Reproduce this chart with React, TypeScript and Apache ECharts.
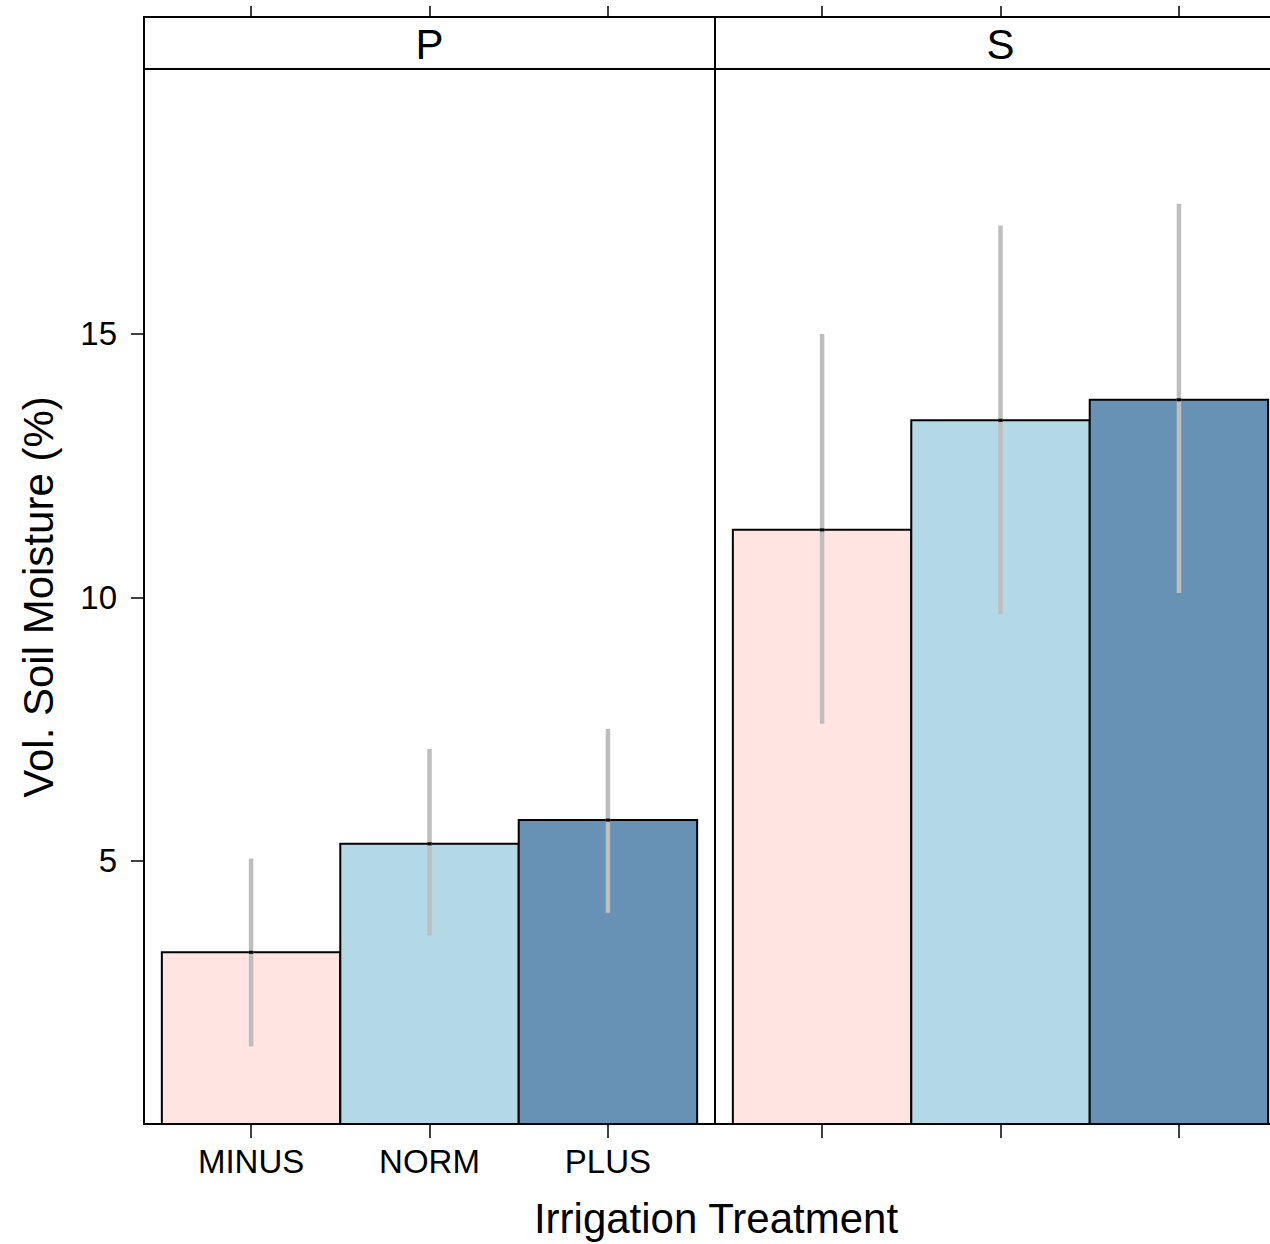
import React, { useEffect, useRef } from 'react';
import * as echarts from 'echarts';

// ---- data ----
const categories = ['MINUS', 'NORM', 'PLUS'];
const panels = ['P', 'S'];
const meanP = [3.26, 5.32, 5.77];
const lowP = [1.47, 3.58, 4.01];
const highP = [5.04, 7.12, 7.5];
const meanS = [11.28, 13.36, 13.75];
const lowS = [7.6, 9.68, 10.08];
const highS = [15.0, 17.06, 17.47];
const yTicks = [5, 10, 15];
const xTicks = [1, 2, 3];
const barColors = ['#FFE4E1', '#B3D8E6', '#6791B5'];

const FONT = '"Liberation Sans", Arial, Helvetica, sans-serif';

export default function App() {
  const ref = useRef<HTMLDivElement>(null);

  useEffect(() => {
    const chart = echarts.init(ref.current!, null, { renderer: 'svg' });
    const panelLeft = [144, 715];
    const panelW = 571;
    const top = 69;
    const height = 1055;
    const stripTop = 17;
    const means = [meanP, meanS];
    const lows = [lowP, lowS];
    const highs = [highP, highS];

    const grids = panelLeft.map((l) => ({
      left: l,
      top,
      width: panelW,
      height,
      show: true,
      borderColor: '#000',
      borderWidth: 2,
      backgroundColor: 'transparent',
    }));

    const xAxes: any[] = [];
    const yAxes: any[] = [];
    panels.forEach((_, i) => {
      xAxes.push({
        type: 'value',
        gridIndex: i,
        position: 'bottom',
        min: 0.4,
        max: 3.6,
        axisLine: { show: false },
        splitLine: { show: false },
        axisTick: {
          show: true,
          length: 14,
          customValues: xTicks,
          lineStyle: { color: '#000', width: 1.5 },
        },
        axisLabel: {
          show: i === 0,
          customValues: xTicks,
          formatter: (v: number) => categories[Math.round(v) - 1] ?? '',
          fontSize: 33,
          fontFamily: FONT,
          color: '#000',
          margin: 21,
        },
      });
      xAxes.push({
        type: 'value',
        gridIndex: i,
        position: 'top',
        offset: top - stripTop,
        min: 0.4,
        max: 3.6,
        axisLine: { show: false },
        splitLine: { show: false },
        axisTick: {
          show: true,
          length: 11,
          customValues: xTicks,
          lineStyle: { color: '#000', width: 1.5 },
        },
        axisLabel: { show: false },
      });
      yAxes.push({
        type: 'value',
        gridIndex: i,
        show: i === 0,
        position: 'left',
        min: 0,
        max: 20.03,
        axisLine: { show: false },
        splitLine: { show: false },
        axisTick: {
          show: true,
          length: 13,
          customValues: yTicks,
          lineStyle: { color: '#000', width: 1.5 },
        },
        axisLabel: {
          customValues: yTicks,
          fontSize: 33,
          fontFamily: FONT,
          color: '#000',
          margin: 27,
        },
      });
    });

    const series: any[] = [];
    panels.forEach((_, i) => {
      series.push({
        type: 'custom',
        xAxisIndex: 2 * i,
        yAxisIndex: i,
        clip: false,
        z: 2,
        data: means[i].map((m, k) => [xTicks[k], m, k]),
        renderItem: (params: any, api: any) => {
          const x = api.value(0);
          const v = api.value(1);
          const c = api.value(2);
          const p1 = api.coord([x - 0.5, v]);
          const p2 = api.coord([x + 0.5, 0]);
          return {
            type: 'rect',
            shape: { x: p1[0], y: p1[1], width: p2[0] - p1[0], height: p2[1] - p1[1] },
            style: { fill: barColors[c], stroke: '#000', lineWidth: 2 },
          };
        },
      });
      series.push({
        type: 'custom',
        xAxisIndex: 2 * i,
        yAxisIndex: i,
        clip: false,
        z: 3,
        data: means[i].map((m, k) => [xTicks[k], lows[i][k], highs[i][k], m]),
        renderItem: (params: any, api: any) => {
          const x = api.value(0);
          const lo = api.coord([x, api.value(1)]);
          const hi = api.coord([x, api.value(2)]);
          const mid = api.coord([x, api.value(3)]);
          return {
            type: 'group',
            children: [
              {
                type: 'line',
                shape: { x1: lo[0], y1: lo[1], x2: hi[0], y2: hi[1] },
                style: { stroke: '#BEBEBE', lineWidth: 4.5 },
              },
              {
                type: 'rect',
                shape: { x: mid[0] - 2.25, y: mid[1] - 1.5, width: 4.5, height: 3 },
                style: { fill: '#000' },
              },
            ],
          };
        },
      });
    });

    const textStyle = (text: string, size: number) => ({
      text,
      fontSize: size,
      fontFamily: FONT,
      fill: '#000',
      align: 'center',
      verticalAlign: 'middle',
      textAlign: 'center',
      textVerticalAlign: 'middle',
    });

    const graphic: any[] = [];
    panels.forEach((p, i) => {
      graphic.push({
        type: 'rect',
        shape: { x: panelLeft[i], y: stripTop, width: panelW, height: top - stripTop },
        style: { fill: '#fff', stroke: '#000', lineWidth: 2 },
        z: 10,
      });
      graphic.push({
        type: 'text',
        x: panelLeft[i] + panelW / 2,
        y: 44,
        style: textStyle(p, 42),
        z: 11,
      });
    });
    graphic.push({
      type: 'text',
      x: 716,
      y: 1218,
      style: textStyle('Irrigation Treatment', 42),
      z: 11,
    });
    graphic.push({
      type: 'text',
      x: 38,
      y: 597,
      rotation: Math.PI / 2,
      style: textStyle('Vol. Soil Moisture (%)', 42),
      z: 11,
    });

    chart.setOption({
      animation: false,
      backgroundColor: '#fff',
      grid: grids,
      xAxis: xAxes,
      yAxis: yAxes,
      series,
      graphic,
    });

    return () => chart.dispose();
  }, []);

  return (
    <div
      style={{
        position: 'absolute',
        left: 0,
        top: 0,
        width: 1270,
        height: 1244,
        overflow: 'hidden',
        background: '#fff',
      }}
    >
      <div ref={ref} style={{ width: 1300, height: 1244 }} />
    </div>
  );
}
